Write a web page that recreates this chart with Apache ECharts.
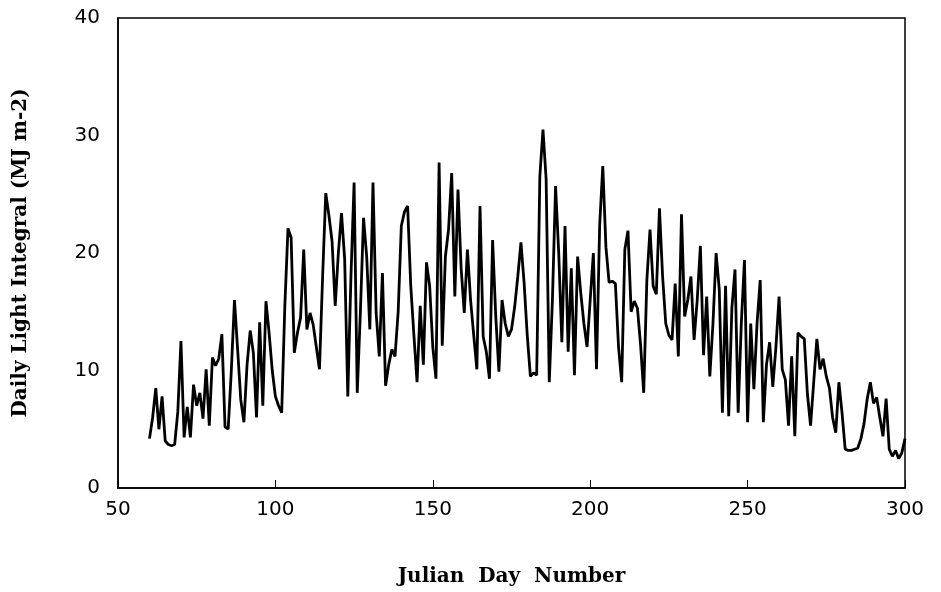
<!DOCTYPE html>
<html>
<head>
<meta charset="utf-8">
<script src="https://cdn.jsdelivr.net/npm/echarts@6/dist/echarts.min.js"></script>
<style>
  html, body { margin: 0; padding: 0; background: #fff; }
  #chart { width: 941px; height: 592px; }
</style>
</head>
<body>
<div id="chart"></div>
<script>
// first Julian day of the record, one value per day after that
const startDay = 60;
const dailyLight = [
  4.2, 6.0, 8.5, 5.0, 7.8, 4.0, 3.7, 3.6, 3.7, 6.5,
  12.5, 4.3, 6.9, 4.3, 8.8, 7.0, 8.1, 5.9, 10.1, 5.3,
  11.1, 10.4, 11.0, 13.1, 5.2, 5.0, 10.0, 16.0, 11.8, 7.5,
  5.6, 10.5, 13.4, 11.5, 6.0, 14.1, 7.0, 15.9, 13.2, 10.0,
  7.8, 7.0, 6.4, 15.5, 22.1, 21.3, 11.5, 13.2, 14.5, 20.3,
  13.5, 14.9, 13.9, 12.0, 10.1, 18.0, 25.1, 23.2, 21.0, 15.5,
  20.0, 23.4, 19.5, 7.8, 18.0, 26.0, 8.1, 15.0, 23.0, 19.7,
  13.5, 26.0, 14.9, 11.2, 18.3, 8.7, 10.5, 11.8, 11.2, 15.0,
  22.3, 23.5, 24.0, 17.2, 13.0, 9.0, 15.5, 10.5, 19.2, 17.2,
  12.0, 9.3, 27.7, 12.1, 19.7, 22.0, 26.8, 16.3, 25.4, 18.7,
  14.9, 20.3, 16.0, 13.0, 10.1, 24.0, 12.9, 11.6, 9.3, 21.1,
  14.6, 9.9, 16.0, 14.0, 12.9, 13.5, 15.4, 18.0, 20.9, 17.5,
  13.0, 9.5, 9.8, 9.6, 26.5, 30.5, 26.3, 9.0, 16.0, 25.7,
  20.0, 12.4, 22.3, 11.6, 18.7, 9.6, 19.7, 16.6, 14.0, 12.0,
  16.0, 20.0, 10.1, 22.3, 27.4, 20.5, 17.5, 17.6, 17.4, 12.0,
  9.0, 20.3, 21.9, 15.0, 15.9, 15.3, 12.2, 8.1, 17.7, 22.0,
  17.2, 16.5, 23.8, 18.0, 14.0, 13.0, 12.6, 17.4, 11.2, 23.3,
  14.6, 16.0, 18.0, 12.6, 16.0, 20.6, 11.3, 16.3, 9.5, 14.0,
  20.0, 16.9, 6.4, 17.2, 6.1, 15.3, 18.6, 6.4, 14.0, 19.4,
  5.6, 14.0, 8.4, 14.0, 17.7, 5.6, 10.5, 12.4, 8.6, 12.0,
  16.3, 10.1, 9.2, 5.3, 11.2, 4.4, 13.2, 12.9, 12.7, 8.0,
  5.3, 9.0, 12.7, 10.1, 11.0, 9.5, 8.5, 6.0, 4.7, 9.0,
  6.4, 3.3, 3.2, 3.2, 3.3, 3.4, 4.2, 5.5, 7.6, 9.0,
  7.2, 7.7, 6.0, 4.4, 7.6, 3.3, 2.7, 3.2, 2.5, 3.0,
  4.2
];
const xTicks = [50, 100, 150, 200, 250, 300];
const yTicks = [0, 10, 20, 30, 40];

const points = dailyLight.map((v, i) => [startDay + i, v]);

const titleFont = { fontFamily: 'DejaVu Serif', fontWeight: 'bold', fontSize: 20, color: '#000' };

const chart = echarts.init(document.getElementById('chart'));
chart.setOption({
  animation: false,
  backgroundColor: '#fff',
  grid: {
    left: 118, right: 36, top: 18, bottom: 103,
    show: true, borderColor: '#000', borderWidth: 1.5
  },
  xAxis: {
    type: 'value',
    min: xTicks[0], max: xTicks[xTicks.length - 1], interval: 50,
    name: 'Julian  Day  Number',
    nameLocation: 'middle',
    nameGap: 79,
    nameTextStyle: titleFont,
    axisLine: { lineStyle: { color: '#000', width: 1.5 } },
    axisTick: { inside: true, length: 8, lineStyle: { color: '#000' } },
    axisLabel: { color: '#000', fontFamily: 'DejaVu Sans', fontSize: 20, margin: 12 },
    splitLine: { show: false }
  },
  yAxis: {
    type: 'value',
    min: yTicks[0], max: yTicks[yTicks.length - 1], interval: 10,
    name: 'Daily Light Integral (MJ m-2)',
    nameLocation: 'middle',
    nameGap: 87,
    nameTextStyle: titleFont,
    axisLine: { lineStyle: { color: '#000', width: 1.5 } },
    axisTick: { show: false },
    axisLabel: { color: '#000', fontFamily: 'DejaVu Sans', fontSize: 20, margin: 18 },
    splitLine: { show: false }
  },
  series: [{
    type: 'line',
    data: points,
    showSymbol: false,
    lineStyle: { color: '#000', width: 2.8 }
  }]
});
</script>
</body>
</html>
